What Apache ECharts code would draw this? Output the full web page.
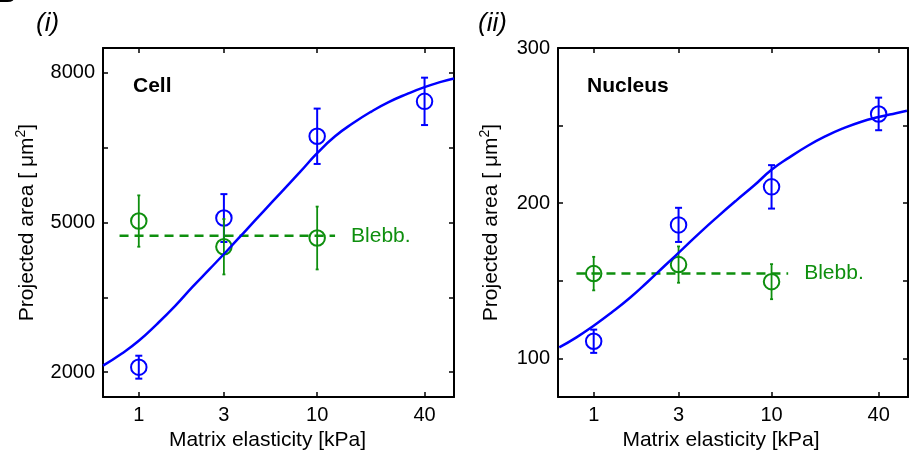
<!DOCTYPE html>
<html><head><meta charset="utf-8">
<script src="https://cdn.jsdelivr.net/npm/echarts@6/dist/echarts.min.js"></script>
<style>html,body{margin:0;padding:0;background:#fff}#c{width:918px;height:456px}</style>
</head><body><div id="c"></div>
<script>
// ---------- shared x axis ----------
const xTicks = [1, 3, 10, 40];
const xRange = [0.63, 58.5];

// ---------- panel (i): Cell ----------
const cellYRange = [1500, 8500];
const cellYTicks = [2000, 3500, 5000, 6500, 8000];
const cellYLabels = [2000, 5000, 8000];
const cellX = [1, 3, 10, 40];
const cellMean = [2100, 5090, 6730, 7430];
const cellErr = [230, 480, 555, 475];
const cellBlebbX = [1, 3, 10];
const cellBlebbMean = [5030, 4515, 4690];
const cellBlebbErr = [515, 555, 630];
const cellBlebbLineX = [0.78, 12.6];
const cellBlebbLineY = [4735, 4735];
const cellFitX = [0.63, 0.8, 1, 1.26, 1.6, 2, 2.5, 3.2, 4, 5, 6.3, 8, 10, 12.6, 16, 20, 25, 32, 40, 50, 58.5];
const cellFitY = [2130, 2370, 2630, 2960, 3330, 3710, 4070, 4475, 4850, 5225, 5610, 6010, 6390, 6730, 7000, 7220, 7410, 7580, 7715, 7825, 7890];

// ---------- panel (ii): Nucleus ----------
const nucYRange = [75, 300];
const nucYTicks = [100, 150, 200, 250, 300];
const nucYLabels = [100, 200, 300];
const nucX = [1, 3, 10, 40];
const nucMean = [111, 186, 210.5, 257.5];
const nucErr = [7.5, 11, 14, 10.5];
const nucBlebbX = [1, 3, 10];
const nucBlebbMean = [154.6, 160.4, 149.4];
const nucBlebbErr = [10.8, 11.7, 11.3];
const nucBlebbLineX = [0.8, 12.4];
const nucBlebbLineY = [154.6, 154.6];
const nucFitX = [0.64, 0.8, 1, 1.26, 1.6, 2, 2.5, 3.2, 4, 5, 6.3, 8, 10, 12.6, 16, 20, 25, 32, 40, 50, 57.7];
const nucFitY = [107, 113.5, 121, 129.5, 139, 149, 159.5, 171, 181.5, 191.5, 201.5, 211.5, 221.5, 229.5, 237, 243, 248, 252.5, 255.5, 258, 259.5];

const FONT = '"Liberation Sans", Arial, Helvetica, sans-serif';
const BLUE = '#0000ff', GREEN = '#0e8f0e', BLACK = '#000000';

const pairs = (xs, ys) => xs.map((x, i) => [x, ys[i]]);
const errData = (xs, m, e) => xs.map((x, i) => [x, m[i] - e[i], m[i] + e[i]]);

function xAxes(g, namePad) {
  const base = {
    type: 'log', logBase: 10, gridIndex: g, min: xRange[0], max: xRange[1],
    axisLine: {show: true, onZero: false, lineStyle: {color: BLACK, width: 2}},
    axisTick: {show: true, inside: true, length: 5, customValues: xTicks, lineStyle: {color: BLACK, width: 1.5}},
    splitLine: {show: false}, minorTick: {show: false}, minorSplitLine: {show: false}
  };
  return [
    Object.assign({}, base, {
      position: 'bottom',
      name: 'Matrix elasticity [kPa]', nameLocation: 'middle', nameGap: 27,
      nameTextStyle: {fontSize: 21, color: BLACK, fontFamily: FONT, padding: [0, namePad, 0, 0]},
      axisLabel: {show: true, customValues: xTicks, margin: 8, fontSize: 20, color: BLACK, fontFamily: FONT,
        formatter: v => String(Math.round(v))}
    }),
    Object.assign({}, base, {position: 'top', axisLabel: {show: false}})
  ];
}

function yAxes(g, range, ticks, labels, nameGap) {
  const base = {
    type: 'value', gridIndex: g, min: range[0], max: range[1],
    axisLine: {show: true, onZero: false, lineStyle: {color: BLACK, width: 2}},
    axisTick: {show: true, inside: true, length: 5, customValues: ticks, lineStyle: {color: BLACK, width: 1.5}},
    splitLine: {show: false}
  };
  return [
    Object.assign({}, base, {
      position: 'left',
      name: '{a|Projected area [ μm}{s|2}{a|]}', nameLocation: 'middle', nameGap: nameGap,
      nameTextStyle: {
        color: BLACK, fontFamily: FONT, fontSize: 21,
        rich: {
          a: {fontSize: 21, color: BLACK, fontFamily: FONT, lineHeight: 24, verticalAlign: 'bottom'},
          s: {fontSize: 14, color: BLACK, fontFamily: FONT, lineHeight: 24, verticalAlign: 'top'}
        }
      },
      axisLabel: {show: true, customValues: labels, margin: 8, fontSize: 20, color: BLACK, fontFamily: FONT,
        formatter: v => String(Math.round(v))}
    }),
    Object.assign({}, base, {position: 'right', axisLabel: {show: false}})
  ];
}

function errorSeries(xi, yi, data, color, cap, width, z) {
  return {
    type: 'custom', xAxisIndex: xi, yAxisIndex: yi, z: z,
    data: data, encode: {x: 0, y: [1, 2]},
    renderItem: function (params, api) {
      const x = api.value(0);
      const lo = api.coord([x, api.value(1)]);
      const hi = api.coord([x, api.value(2)]);
      const st = {stroke: color, lineWidth: width};
      return {type: 'group', children: [
        {type: 'line', shape: {x1: hi[0], y1: hi[1], x2: lo[0], y2: lo[1]}, style: st},
        {type: 'line', shape: {x1: hi[0] - cap, y1: hi[1], x2: hi[0] + cap, y2: hi[1]}, style: st},
        {type: 'line', shape: {x1: lo[0] - cap, y1: lo[1], x2: lo[0] + cap, y2: lo[1]}, style: st}
      ]};
    }
  };
}

function pointSeries(xi, yi, data, color, z) {
  return {
    type: 'scatter', xAxisIndex: xi, yAxisIndex: yi, z: z, data: data,
    symbol: 'circle', symbolSize: 15.5,
    itemStyle: {color: 'rgba(0,0,0,0)', borderColor: color, borderWidth: 2, opacity: 1},
    emphasis: {disabled: true}
  };
}

function panelSeries(xi, yi, d) {
  return [
    errorSeries(xi, yi, errData(d.x, d.mean, d.err), BLUE, 3.5, 2, 2),
    pointSeries(xi, yi, pairs(d.x, d.mean), BLUE, 3),
    {
      type: 'line', xAxisIndex: xi, yAxisIndex: yi, z: 4,
      data: pairs(d.bLineX, d.bLineY), showSymbol: false, symbol: 'none',
      lineStyle: {color: GREEN, width: 2.5, type: [9, 6]},
      endLabel: {show: true, formatter: 'Blebb.', distance: 16, color: GREEN, fontSize: 21, fontFamily: FONT},
      emphasis: {disabled: true}
    },
    errorSeries(xi, yi, errData(d.bx, d.bmean, d.berr), GREEN, 1.5, 1.8, 5),
    pointSeries(xi, yi, pairs(d.bx, d.bmean), GREEN, 6),
    {
      type: 'line', xAxisIndex: xi, yAxisIndex: yi, z: 7,
      data: pairs(d.fitX, d.fitY), smooth: 0.5, showSymbol: false, symbol: 'none',
      lineStyle: {color: BLUE, width: 2.5}, emphasis: {disabled: true}
    }
  ];
}

const chart = echarts.init(document.getElementById('c'), null, {renderer: 'canvas'});
const option = {
  animation: false,
  backgroundColor: '#ffffff',
  grid: [
    {left: 103, right: 918 - 454, top: 48, bottom: 456 - 400},
    {left: 558, right: 918 - 908, top: 48, bottom: 456 - 400}
  ],
  xAxis: [].concat(xAxes(0, 22), xAxes(1, 24)),
  yAxis: [].concat(
    yAxes(0, cellYRange, cellYTicks, cellYLabels, 65),
    yAxes(1, nucYRange, nucYTicks, nucYLabels, 56)
  ),
  series: [].concat(
    panelSeries(0, 0, {x: cellX, mean: cellMean, err: cellErr, bx: cellBlebbX, bmean: cellBlebbMean, berr: cellBlebbErr,
      bLineX: cellBlebbLineX, bLineY: cellBlebbLineY, fitX: cellFitX, fitY: cellFitY}),
    panelSeries(2, 2, {x: nucX, mean: nucMean, err: nucErr, bx: nucBlebbX, bmean: nucBlebbMean, berr: nucBlebbErr,
      bLineX: nucBlebbLineX, bLineY: nucBlebbLineY, fitX: nucFitX, fitY: nucFitY})
  ),
  graphic: [
    {type: 'text', x: -3, y: 8, style: {text: 'B', font: 'bold 26px ' + FONT, fill: BLACK, textAlign: 'left', textVerticalAlign: 'bottom', align: 'left', verticalAlign: 'bottom'}},
    {type: 'text', x: 36, y: 24, style: {text: '(i)', font: 'italic 26px ' + FONT, fill: BLACK, textAlign: 'left', textVerticalAlign: 'middle', align: 'left', verticalAlign: 'middle'}},
    {type: 'text', x: 478, y: 24, style: {text: '(ii)', font: 'italic 26px ' + FONT, fill: BLACK, textAlign: 'left', textVerticalAlign: 'middle', align: 'left', verticalAlign: 'middle'}},
    {type: 'text', x: 133, y: 86, style: {text: 'Cell', font: 'bold 21px ' + FONT, fill: BLACK, textAlign: 'left', textVerticalAlign: 'middle', align: 'left', verticalAlign: 'middle'}},
    {type: 'text', x: 587, y: 86, style: {text: 'Nucleus', font: 'bold 21px ' + FONT, fill: BLACK, textAlign: 'left', textVerticalAlign: 'middle', align: 'left', verticalAlign: 'middle'}}
  ]
};
chart.setOption(option);
</script>
</body></html>
